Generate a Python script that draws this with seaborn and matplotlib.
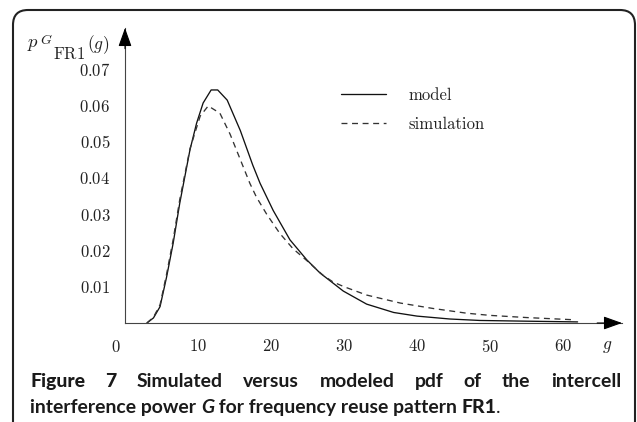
import numpy as np
import pandas as pd
import matplotlib
matplotlib.use("Agg")
import matplotlib.pyplot as plt
import matplotlib.transforms as mtransforms
from matplotlib.patches import FancyBboxPatch
import seaborn as sns

# ---------------- data ----------------
g_model = [3.0, 3.9, 4.8, 5.7, 6.6, 7.5, 8.9, 9.8, 10.7, 11.8, 12.7, 14.0, 15.8,
           17.5, 18.5, 20.3, 22.6, 24.9, 26.7, 29.9, 33.1, 36.8, 40.0, 44.5,
           48.6, 55.0, 62.0]
p_model = [0.0, 0.0014, 0.0045, 0.0127, 0.022, 0.033, 0.0477, 0.055, 0.0606,
           0.0642, 0.0642, 0.0614, 0.053, 0.0435, 0.0385, 0.031, 0.0229, 0.0174,
           0.0138, 0.0088, 0.0052, 0.0029, 0.0019, 0.0011, 0.0007, 0.0005, 0.0003]

g_sim = [3.0, 3.9, 4.8, 5.7, 6.6, 7.5, 8.9, 10.3, 11.4, 13.0, 14.4, 15.8, 17.1,
         18.0, 19.4, 21.2, 23.0, 24.9, 27.1, 28.5, 30.0, 33.1, 37.7, 42.2, 46.8,
         50.0, 55.0, 61.4]
p_sim = [0.0, 0.0016, 0.005, 0.0135, 0.023, 0.034, 0.048, 0.057, 0.0598, 0.0578,
         0.052, 0.045, 0.0385, 0.0347, 0.030, 0.0247, 0.0205, 0.0172, 0.0132,
         0.0113, 0.0100, 0.0077, 0.0055, 0.0040, 0.0027, 0.0021, 0.0015, 0.0009]

series_labels = ["model", "simulation"]
x_ticks = [10, 20, 30, 40, 50, 60]
x_tick_labels = ["10", "20", "30", "40", "50", "60"]
y_ticks = [0.01, 0.02, 0.03, 0.04, 0.05, 0.06, 0.07]
y_tick_labels = ["0.01", "0.02", "0.03", "0.04", "0.05", "0.06", "0.07"]
x_label = "g"
BODY = "body"
HEAD = "head"
caption_line1 = [("Figure", HEAD), ("7", HEAD), ("Simulated", BODY),
                 ("versus", BODY), ("modeled", BODY), ("pdf", BODY),
                 ("of", BODY), ("the", BODY), ("intercell", BODY)]
caption_line2 = [("interference power ", BODY, "normal"),
                 ("G", BODY, "italic"),
                 (" for frequency reuse pattern ", BODY, "normal"),
                 ("FR1", HEAD, "normal"),
                 (".", "dot", "normal")]

# ---------------- style ----------------
sns.set_theme(style="white")
plt.rcParams["mathtext.fontset"] = "cm"
plt.rcParams["font.family"] = ["Lato", "DejaVu Sans"]

font_styles = {
    BODY: dict(family=["Lato", "DejaVu Sans"], fontweight="bold"),
    HEAD: dict(family=["Lato Black", "Lato Heavy", "Lato", "DejaVu Sans"],
               fontweight="black"),
    "dot": dict(family=["Lato", "DejaVu Sans"], fontweight="normal"),
}

W, H = 637, 422
fig = plt.figure(figsize=(W / 100, H / 100), dpi=100)
fig.patch.set_facecolor("white")
ident = mtransforms.IdentityTransform()

# axes placed in pixel terms: origin (125, 323), arrow tips x=622, y=28
ax = fig.add_axes([125 / W, (H - 323) / H, (622 - 125) / W, (323 - 28) / H])
ax.set_facecolor("white")

sns.lineplot(x=g_model, y=p_model, ax=ax, color="#111111", linewidth=0.95,
             label=series_labels[0], estimator=None, sort=True)
sns.lineplot(x=g_sim, y=p_sim, ax=ax, color="#333333", linewidth=0.95,
             label=series_labels[1], estimator=None, sort=True)
ax.lines[1].set_dashes((4.5, 3.5))

ax.set_xlim(0, (622 - 125) / 7.3)
ax.set_ylim(0, (323 - 28) / 3630)

for s in ["top", "right"]:
    ax.spines[s].set_visible(False)
for s in ["left", "bottom"]:
    ax.spines[s].set_color("#444444")
    ax.spines[s].set_linewidth(0.8)

ax.set_xticks(x_ticks)
ax.set_xticklabels([f"${t}$" for t in x_tick_labels])
ax.set_yticks(y_ticks)
ax.set_yticklabels([f"${t}$" for t in y_tick_labels])
ax.tick_params(axis="both", direction="inout", length=6, width=0.8,
               colors="#222222", labelsize=12, pad=7.5)
ax.set_xlabel("")
ax.set_ylabel("")

# arrow heads
arrow_kw = dict(arrowstyle="-|>,head_length=0.95,head_width=0.34", color="black",
                shrinkA=0, shrinkB=0, mutation_scale=12, lw=0.8)
ax.annotate("", xy=(1, 0), xytext=(0.95, 0), xycoords="axes fraction",
            arrowprops=arrow_kw, annotation_clip=False)
ax.annotate("", xy=(0, 1), xytext=(0, 0.93), xycoords="axes fraction",
            arrowprops=arrow_kw, annotation_clip=False)

# origin label "0", x label
ax.annotate("$0$", xy=(0, 0), xycoords="axes fraction", xytext=(-6.5, -17),
            textcoords="offset points", ha="center", va="center",
            fontsize=12, color="#222222")
ax.annotate(f"${x_label}$", xy=(1, 0), xycoords="axes fraction", xytext=(-11, -17),
            textcoords="offset points", ha="center", va="center",
            fontsize=12.5, color="#222222")

# y label p_{G_FR1}(g), composed like the TeX original (pixel positions)
ylab_parts = [("$p$", 27, 47, 13.5), ("$G$", 40, 44.5, 10),
              (r"$\mathrm{FR1}$", 53, 59, 12), ("$(g)$", 87, 49, 12.5)]
for txt, px, py, fs in ylab_parts:
    fig.text(px, H - py, txt, transform=ident, fontsize=fs, color="#222222",
             ha="left", va="baseline")

# legend
leg = ax.legend(loc="upper left", bbox_to_anchor=(341 / W, (H - 88) / H),
                bbox_transform=fig.transFigure, frameon=False, borderpad=0,
                borderaxespad=0, handlelength=2.7, handletextpad=1.35,
                labelspacing=0.8, prop={"family": "cmr10", "size": 12})
for t in leg.get_texts():
    t.set_color("#222222")

# rounded frame
frame = FancyBboxPatch((13, -60), 635 - 13, 412 + 60, boxstyle="round,pad=0,rounding_size=15",
                       transform=ident, fill=False, edgecolor="#222222", linewidth=1.5,
                       clip_on=False)
fig.patches.append(frame)

# caption
fig.canvas.draw()
renderer = fig.canvas.get_renderer()
left, right = 30, 621
line2_width = 473
y1 = H - 387   # baseline of first line
y2 = H - 413   # baseline of second line


def draw_line2(size):
    xs = left
    made = []
    for part, kind, st in caption_line2:
        t = fig.text(xs, y2, part, transform=ident, fontsize=size, fontstyle=st,
                     color="#1a1a1a", va="baseline", ha="left", **font_styles[kind])
        xs += t.get_window_extent(renderer).width
        made.append(t)
    return made, xs - left


made, wdt = draw_line2(12.5)
cap_size = 12.5 * line2_width / wdt
for t in made:
    t.remove()
draw_line2(cap_size)

texts = []
widths = []
for word, kind in caption_line1:
    t = fig.text(0, y1, word, transform=ident, fontsize=cap_size,
                 color="#1a1a1a", va="baseline", ha="left", **font_styles[kind])
    texts.append(t)
    widths.append(t.get_window_extent(renderer).width)
gap = (right - left - sum(widths)) / (len(texts) - 1)
x = left
for t, w in zip(texts, widths):
    t.set_x(x)
    x += w + gap

fig.savefig("out.png", dpi=100)
